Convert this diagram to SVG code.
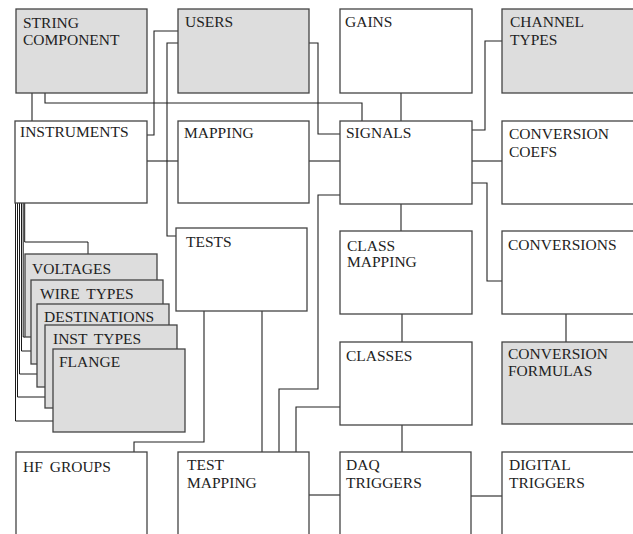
<svg xmlns="http://www.w3.org/2000/svg" width="633" height="534" viewBox="0 0 633 534">
<style>
rect.n{fill:#ffffff;stroke:#444;stroke-width:1.3}
rect.g{fill:#dddddd;stroke:#444;stroke-width:1.3}
text{font-family:"Liberation Serif","Times New Roman",serif;font-size:15.5px;fill:#222;word-spacing:3px}
#connectors path{fill:none;stroke:#222;stroke-width:1.1}
#connectors path.thin{stroke:#000;stroke-width:0.9}
</style>
<rect width="633" height="534" fill="#ffffff"/>
<g id="connectors">
<path d="M32,93 V121"/>
<path d="M45,93 V103 H362 V121"/>
<path d="M178,31 H154 V135 H147"/>
<path d="M178,43 H167 V236 H176"/>
<path d="M309,43 H318 V134 H340"/>
<path d="M147,161 H178"/>
<path d="M309,161 H340"/>
<path d="M401,93 V121"/>
<path d="M502,41 H485 V130 H472"/>
<path d="M472,161 H502"/>
<path d="M472,183 H487 V281 H502"/>
<path d="M401,204 V231"/>
<path d="M402,314 V342"/>
<path d="M566,314 V342"/>
<path d="M402,425 V452"/>
<path d="M340,195 H318 V389 H279 V452"/>
<path d="M340,407 H296 V452"/>
<path d="M262,311 V452"/>
<path d="M204,311 V442 H134 V452"/>
<path d="M309,495 H340"/>
<path d="M471,496 H502"/>
<path class="thin" d="M15.5,203 V421 H53"/>
<path class="thin" d="M17.5,203 V397 H45"/>
<path class="thin" d="M19.5,203 V374 H37"/>
<path class="thin" d="M21.5,203 V351 H31"/>
<path class="thin" d="M23.2,203 V337 H25"/>
<path class="thin" d="M24.7,203 V242 H88 V254"/>
</g>
<g id="string-component"><rect class="g" x="16" y="9" width="131" height="84"/><text x="23" y="27.5">STRING</text><text x="23" y="45">COMPONENT</text></g>
<g id="users"><rect class="g" x="178" y="9" width="131" height="84"/><text x="185" y="27">USERS</text></g>
<g id="gains"><rect class="n" x="340" y="9" width="132" height="84"/><text x="345" y="27">GAINS</text></g>
<g id="channel-types"><rect class="g" x="502" y="9" width="140" height="84"/><text x="510" y="27">CHANNEL</text><text x="510" y="45">TYPES</text></g>
<g id="instruments"><rect class="n" x="15" y="121" width="132" height="82"/><text x="20" y="137">INSTRUMENTS</text></g>
<g id="mapping"><rect class="n" x="178" y="121" width="131" height="82"/><text x="184" y="138">MAPPING</text></g>
<g id="signals"><rect class="n" x="340" y="121" width="132" height="83"/><text x="346" y="138">SIGNALS</text></g>
<g id="conversion-coefs"><rect class="n" x="502" y="121" width="140" height="83"/><text x="509" y="139">CONVERSION</text><text x="509" y="157">COEFS</text></g>
<g id="tests"><rect class="n" x="176" y="228" width="131" height="83"/><text x="186" y="247">TESTS</text></g>
<g id="class-mapping"><rect class="n" x="340" y="231" width="132" height="83"/><text x="347" y="250.5">CLASS</text><text x="347" y="267">MAPPING</text></g>
<g id="conversions"><rect class="n" x="502" y="231" width="140" height="83"/><text x="508" y="250">CONVERSIONS</text></g>
<g id="classes"><rect class="n" x="340" y="342" width="132" height="83"/><text x="346" y="361">CLASSES</text></g>
<g id="conversion-formulas"><rect class="g" x="502" y="342" width="140" height="82"/><text x="508" y="359">CONVERSION</text><text x="508" y="376">FORMULAS</text></g>
<g id="voltages"><rect class="g" x="25" y="254" width="132" height="83"/><text x="32" y="274">VOLTAGES</text></g>
<g id="wire-types"><rect class="g" x="31" y="280" width="132" height="84"/><text x="40" y="299">WIRE TYPES</text></g>
<g id="destinations"><rect class="g" x="37" y="304" width="132" height="83"/><text x="44" y="322">DESTINATIONS</text></g>
<g id="inst-types"><rect class="g" x="45" y="325" width="132" height="83"/><text x="53" y="344">INST TYPES</text></g>
<g id="flange"><rect class="g" x="53" y="349" width="132" height="83"/><text x="59" y="367">FLANGE</text></g>
<g id="hf-groups"><rect class="n" x="16" y="452" width="131" height="100"/><text x="23" y="472">HF GROUPS</text></g>
<g id="test-mapping"><rect class="n" x="178" y="452" width="131" height="100"/><text x="187" y="470">TEST</text><text x="187" y="488">MAPPING</text></g>
<g id="daq-triggers"><rect class="n" x="340" y="452" width="131" height="100"/><text x="346" y="470">DAQ</text><text x="346" y="488">TRIGGERS</text></g>
<g id="digital-triggers"><rect class="n" x="502" y="452" width="140" height="100"/><text x="509" y="470">DIGITAL</text><text x="509" y="488">TRIGGERS</text></g>
</svg>
